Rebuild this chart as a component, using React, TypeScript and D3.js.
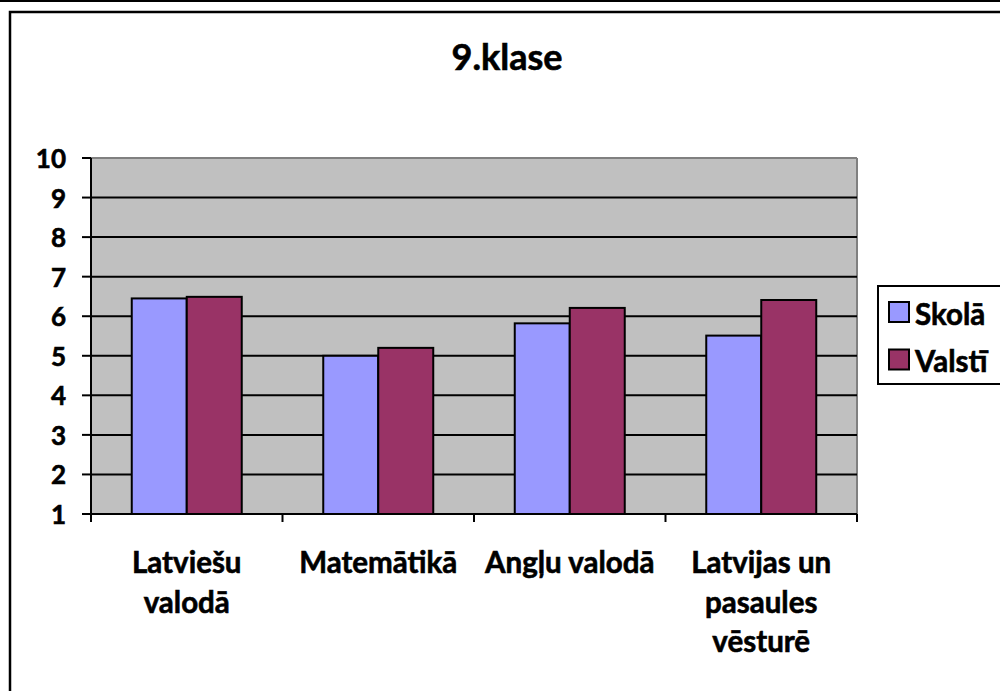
import React from "react";
import * as d3 from "d3";

const title = "9.klase";
const categories = ["Latviešu valodā", "Matemātikā", "Angļu valodā", "Latvijas un pasaules vēsturē"];
const categoryLines = [["Latviešu", "valodā"], ["Matemātikā"], ["Angļu valodā"], ["Latvijas un", "pasaules", "vēsturē"]];
const seriesNames = ["Skolā", "Valstī"];
const skola = [6.45, 5.0, 5.82, 5.51];
const valsti = [6.49, 5.2, 6.21, 6.41];
const yTicks = [1, 2, 3, 4, 5, 6, 7, 8, 9, 10];
const colors = ["#9999FF", "#993366"];

const W = 1000;
const H = 691;
const plot = { left: 91, right: 857, top: 158, bottom: 514 };
const FONT = "Lato, 'Open Sans', sans-serif";
const textStroke = { stroke: "#000", strokeWidth: 0.6 };

export default function App() {
  const y = d3.scaleLinear().domain([1, 10]).range([plot.bottom, plot.top]);
  const x0 = d3.scaleBand<string>().domain(categories).range([plot.left, plot.right]).paddingInner(0).paddingOuter(0);
  const x1 = d3.scaleBand<string>().domain(seriesNames).range([0, x0.bandwidth()]).paddingInner(0).paddingOuter(0.741);
  const values = [skola, valsti];
  const boundaries = categories.map((c) => x0(c)!).concat([plot.right]);

  return (
    <div style={{ position: "fixed", left: 0, top: 0, width: W, height: H, background: "#fff" }}>
      <svg width={W} height={H} style={{ display: "block" }} fontFamily={FONT}>
        <rect x={0} y={0} width={W} height={H} fill="#fff" />
        <line x1={0} x2={W} y1={1} y2={1} stroke="#000" strokeWidth={2} />
        <rect x={10} y={12} width={W + 20} height={H + 20} fill="#fff" stroke="#000" strokeWidth={2.5} />
        <text x={507} y={70} textAnchor="middle" fontSize={36} fontWeight="bold" {...textStroke}>{title}</text>

        <rect x={plot.left} y={plot.top} width={plot.right - plot.left} height={plot.bottom - plot.top} fill="#C0C0C0" />
        <line x1={plot.left} x2={plot.right} y1={plot.top} y2={plot.top} stroke="#808080" strokeWidth={2} />
        <line x1={plot.right} x2={plot.right} y1={plot.top} y2={plot.bottom} stroke="#808080" strokeWidth={2} />
        {yTicks.filter((t) => t > 1 && t < 10).map((t) => (
          <line key={t} x1={plot.left} x2={plot.right} y1={y(t)} y2={y(t)} stroke="#000" strokeWidth={2} />
        ))}

        {categories.map((c, i) =>
          seriesNames.map((s, j) => (
            <rect
              key={c + s}
              x={x0(c)! + x1(s)!}
              y={y(values[j][i])}
              width={x1.bandwidth()}
              height={y(1) - y(values[j][i])}
              fill={colors[j]}
              stroke="#000"
              strokeWidth={2}
            />
          ))
        )}

        <line x1={plot.left} x2={plot.left} y1={plot.top} y2={plot.bottom} stroke="#000" strokeWidth={2} />
        <line x1={plot.left - 9} x2={plot.right} y1={plot.bottom} y2={plot.bottom} stroke="#000" strokeWidth={2} />
        {yTicks.map((t) => (
          <g key={t}>
            <line x1={plot.left - 9} x2={plot.left} y1={y(t)} y2={y(t)} stroke="#000" strokeWidth={2} />
            <text x={66} y={y(t)} textAnchor="end" dominantBaseline="central" fontSize={26} fontWeight="bold" {...textStroke}>{t}</text>
          </g>
        ))}
        {boundaries.map((b, i) => (
          <line key={i} x1={b} x2={b} y1={plot.bottom} y2={plot.bottom + 8} stroke="#000" strokeWidth={2} />
        ))}
        {categories.map((c, i) => (
          <text key={c} textAnchor="middle" fontSize={29.5} fontWeight="bold" {...textStroke}>
            {categoryLines[i].map((ln, k) => (
              <tspan key={k} x={x0(c)! + x0.bandwidth() / 2} y={573 + k * 39.5}>{ln}</tspan>
            ))}
          </text>
        ))}

        <rect x={878} y={286} width={140} height={98} fill="#fff" stroke="#000" strokeWidth={2} />
        {seriesNames.map((s, j) => (
          <g key={s}>
            <rect x={889} y={302 + j * 47.5} width={20} height={20} fill={colors[j]} stroke="#000" strokeWidth={2} />
            <text x={915} y={313 + j * 47.5} dominantBaseline="central" fontSize={29.5} fontWeight="bold" {...textStroke}>{s}</text>
          </g>
        ))}
      </svg>
    </div>
  );
}
